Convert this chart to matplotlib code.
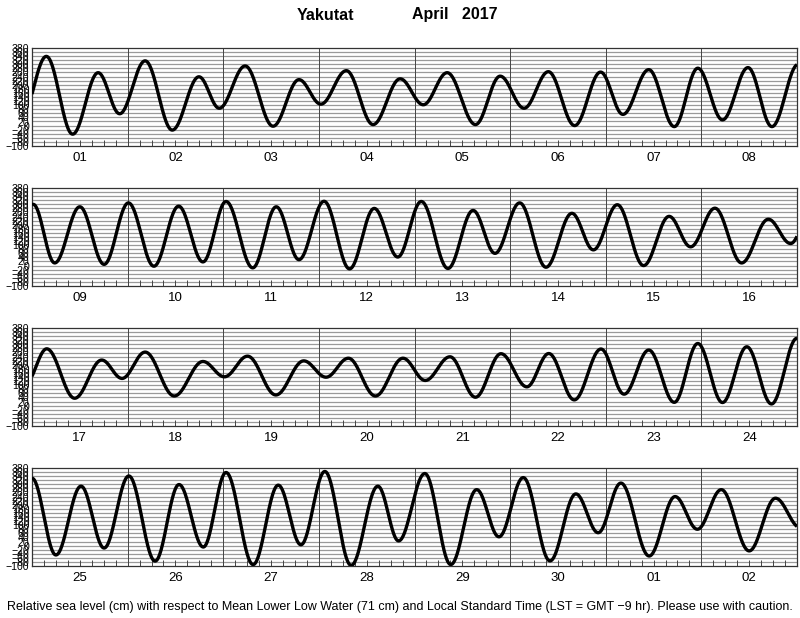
import numpy as np
import matplotlib
matplotlib.use('Agg')
import matplotlib.pyplot as plt
from matplotlib.ticker import FixedLocator

plt.rcParams['font.family'] = ['Liberation Sans', 'DejaVu Sans']

# high / low water: hours since 1 April 00:00 LST, level in cm
ext_hours = [-2.8, 3.6, 10.2, 16.6, 22.0, 28.4, 35.2, 41.9, 47.0, 53.5, 60.5, 67.0, 72.5,
             78.9, 85.6, 92.4, 98.2, 104.2, 111.3, 117.5, 123.5, 129.6, 136.2, 142.7,
             148.3, 154.8, 161.2, 167.1, 173.3, 179.7, 185.7,
             192.3, 197.7, 204.0, 210.1, 216.2, 222.6, 228.8, 234.9, 240.7, 247.4,
             253.3, 259.0, 265.3, 271.7, 277.9, 283.8, 289.7, 296.4, 302.7, 308.2,
             314.4, 321.0, 327.5, 332.9, 338.9, 345.5, 351.9, 357.3, 363.4, 370.1,
             376.8, 382.4,
             387.7, 394.7, 401.5, 406.6, 412.4, 419.7, 426.9, 432.3, 438.1, 445.2,
             452.2, 457.8, 463.4, 470.2, 477.1, 482.7, 488.9, 495.3, 501.7, 508.2,
             513.7, 520.1, 526.8, 532.6, 538.8, 545.2, 551.1, 557.3, 563.4, 569.6,
             576.0, 582.0, 588.3, 594.1, 600.3, 606.9, 612.9, 619.0, 624.7, 631.5,
             637.8, 643.5, 649.5, 656.1, 662.8, 668.0, 674.6, 681.1, 687.6, 693.2,
             699.3, 706.0, 712.5, 718.1, 723.8, 730.9, 737.4, 743.0, 749.0, 756.0,
             762.6, 768.8]
ext_levels = [30, 339, -42, 259, 58, 317, -22, 239, 85, 292, -3, 225, 105,
              269, 5, 229, 102, 259, 5, 242, 85, 264, 0, 262,
              55, 274, -5, 281, 28, 284, -5,
              300, 13, 288, 6, 307, -3, 291, 18, 314, -11,
              288, 29, 315, -16, 280, 42, 314, -14, 270, 60,
              307, -8, 256, 77, 298, 0, 241, 92, 281, 13,
              227, 108,
              278, 36, 223, 133, 262, 47, 216, 141, 242, 52,
              219, 139, 232, 47, 232, 123, 239, 41, 254, 92,
              255, 28, 277, 56, 272, 16, 304, 15, 288, 8,
              330, -46, 291, -12, 341, -76, 299, -7, 358, -93,
              296, 4, 363, -97, 291, 23, 353, -93, 274, 43,
              333, -75, 253, 63, 306, -51, 240, 80, 274, -26,
              232, 88]

day_labels = ['01', '02', '03', '04', '05', '06', '07', '08',
              '09', '10', '11', '12', '13', '14', '15', '16',
              '17', '18', '19', '20', '21', '22', '23', '24',
              '25', '26', '27', '28', '29', '30', '01', '02']
y_ticks = list(range(-100, 381, 20))

# tide curve between successive extremes (cosine shape)
eh = np.array(ext_hours)
el = np.array(ext_levels)
t = np.arange(0, 768.01, 0.1)
i = np.clip(np.searchsorted(eh, t) - 1, 0, len(eh) - 2)
frac = (t - eh[i]) / (eh[i + 1] - eh[i])
level = el[i] + (el[i + 1] - el[i]) * (1 - np.cos(np.pi * frac)) / 2

fig = plt.figure(figsize=(8, 6.18), dpi=100)
H = 618.0
for p in range(4):
    top_px = 48 + p * 140
    ax = fig.add_axes([32 / 800, 1 - (top_px + 98) / H, 765 / 800, 98 / H])
    t0 = p * 192
    m = (t >= t0) & (t <= t0 + 192)
    ax.set_xlim(t0, t0 + 192)
    ax.set_ylim(-100, 380)
    for yv in y_ticks[1:-1]:
        ax.axhline(yv, color='#9a9a9a', lw=0.9, zorder=1)
    for d in range(1, 8):
        ax.axvline(t0 + d * 24, color='#444444', lw=0.7, zorder=2)
    ax.plot(t[m], level[m], color='black', lw=2.4, zorder=3, solid_capstyle='butt')

    ax.set_yticks(y_ticks)
    ax.set_yticklabels([str(v).replace('-', '\u2212') for v in y_ticks], fontsize=7.6)
    ax.tick_params(axis='y', length=0, pad=2)
    ax.xaxis.remove_overlapping_locs = False
    ax.set_xticks([t0 + 12 + 24 * d for d in range(8)])
    ax.set_xticklabels(day_labels[p * 8:(p + 1) * 8], fontsize=9.5)
    ax.xaxis.set_minor_locator(FixedLocator([t0 + 3 * k for k in range(1, 64)]))
    ax.tick_params(axis='x', which='major', length=0, pad=4)
    ax.tick_params(axis='x', which='minor', direction='in', length=4, width=0.7,
                   color='#444444')
    for s in ax.spines.values():
        s.set_linewidth(0.9)
        s.set_color('#333333')

fig.text(325 / 800, 1 - 15 / H, 'Yakutat', ha='center', va='center',
         fontsize=11.5, fontweight='bold')
fig.text(455 / 800, 1 - 15 / H, 'April   2017', ha='center', va='center',
         fontsize=11.5, fontweight='bold')
fig.text(400 / 800, 1 - 607 / H,
         'Relative sea level (cm) with respect to Mean Lower Low Water (71 cm) and '
         'Local Standard Time (LST = GMT \u22129 hr). Please use with caution.',
         ha='center', va='center', fontsize=9.0)

fig.savefig('out.png', dpi=100)
